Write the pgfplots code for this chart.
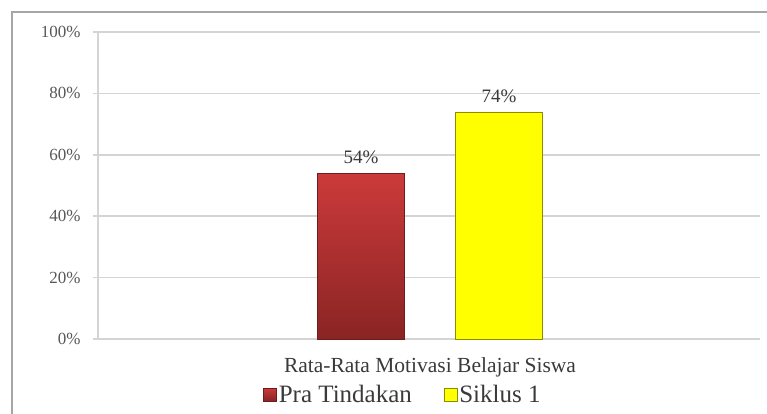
\documentclass[border=0pt]{standalone}
\usepackage{pgfplots}
\pgfplotsset{compat=1.18}
\usepackage{fontspec}
\setmainfont{Liberation Serif}
\definecolor{gridc}{HTML}{D4D4D4}
\definecolor{txt}{HTML}{3A3A3A}
\definecolor{redtop}{HTML}{CC3A3A}
\definecolor{redbot}{HTML}{8A2424}
\definecolor{yel}{HTML}{FFFF00}
\begin{document}
\begin{tikzpicture}
\path[use as bounding box] (-98pt,-75pt) rectangle (669pt,339pt);
\begin{axis}[
  scale only axis, width=662pt, height=307pt,
  xmin=0, xmax=662, ymin=0, ymax=100,
  axis x line*=bottom, axis y line*=left,
  axis line style={gridc, line width=1.5pt},
  ytick={0,20,...,100},
  yticklabel={\pgfmathprintnumber{\tick}\%},
  /pgf/number format/assume math mode=true,
  yticklabel style={font=\fontsize{17}{20}\selectfont, text=txt!85, xshift=-9pt},
  ymajorgrids, grid style={gridc, line width=1.5pt},
  major tick style={gridc, line width=1.5pt},
  tick align=outside, major tick length=5pt,
  xtick={332}, xticklabels={Rata-Rata Motivasi Belajar Siswa},
  xticklabel style={font=\fontsize{21.5}{24}\selectfont, text=txt, yshift=-10pt},
  xtick style={draw=none},
  ybar, bar width=87pt,
  nodes near coords={\pgfmathprintnumber{\pgfplotspointmeta}\%},
  nodes near coords style={font=\fontsize{19}{22}\selectfont, text=txt, yshift=6pt},
  legend style={at={(305pt,-56pt)}, anchor=center, draw=none, fill=none,
    font=\fontsize{25}{28}\selectfont, text=txt, legend columns=2,
    /tikz/every even column/.append style={column sep=30pt}},
  legend image code/.code={\fill[#1] (0pt,-6pt) rectangle (13pt,7pt);},
  clip=false,
]
\addplot[bar shift=-69pt, draw=redbot!80!black, top color=redtop, bottom color=redbot, fill=redtop!85!black] coordinates {(332,54)};
\addplot[bar shift=69pt, draw=yel!55!black, fill=yel] coordinates {(332,74)};
\legend{Pra Tindakan, Siklus 1}
\end{axis}
\draw[gray!70, line width=1.5pt] (-86pt,-80pt) -- (-86pt,327pt) -- (680pt,327pt);
\end{tikzpicture}
\end{document}
